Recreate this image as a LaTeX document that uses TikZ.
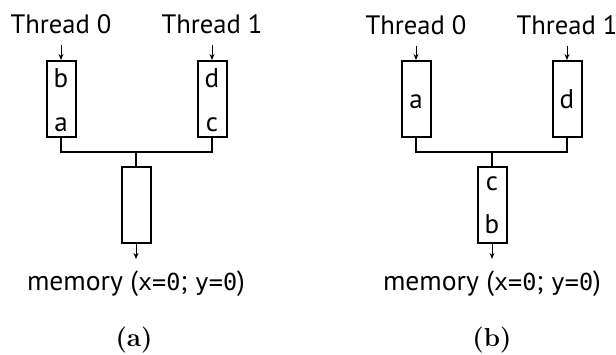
\documentclass[tikz,border=0pt]{standalone}
\usepackage{fontspec}
\usetikzlibrary{arrows.meta}
\newfontfamily\sansfont{PT Sans}
\newfontfamily\codefont{DejaVu Sans Mono}[Scale=0.85]
\begin{document}
\begin{tikzpicture}[
  x=0.5pt, y=-0.5pt,
  box/.style={draw=black, line width=1pt, inner sep=0pt, minimum width=14.5pt, minimum height=38pt},
  lbl/.style={font=\sansfont\fontsize{13.3}{15}\selectfont, inner sep=5.5pt, anchor=base},
  entry/.style={font=\sansfont\fontsize{13.5}{15}\selectfont, inner sep=0pt, anchor=base},
  mem/.style={font=\sansfont\fontsize{13.8}{15}\selectfont, inner sep=5.5pt, anchor=base},
  wire/.style={line width=1pt},
  feed/.style={line width=0.5pt, -{Stealth[length=3pt,width=2.5pt]}},
  subcap/.style={font=\bfseries\fontsize{13}{15}\selectfont, anchor=base}
]
  \useasboundingbox (0,0) rectangle (616,354);

  % (a): both threads buffer two stores each
  \node[lbl] (thrA0) at (61,33) {Thread 0};
  \node[lbl] (thrA1) at (212,33) {Thread 1};
  \node[box] (bufA0) at (61,99) {};
  \node[box] (bufA1) at (212,99) {};
  \node[box] (bufA2) at (136,205) {};
  \node[entry] (eb) at (61,87) {b};
  \node[entry] (ea) at (61,131) {a};
  \node[entry] (ed) at (212,87) {d};
  \node[entry] (ec) at (212,131) {c};
  \coordinate (joinA) at (136,152);
  \node[mem] (memA) at (136,290) {memory ({\codefont x=0}; {\codefont y=0})};
  \node[subcap] (capA) at (134,346) {(a)};

  \draw[feed] (thrA0) -- (bufA0);
  \draw[feed] (thrA1) -- (bufA1);
  \draw[wire] (bufA0.south) |- (joinA) -| (bufA1.south);
  \draw[wire] (joinA) -- (bufA2.north);
  \draw[feed] (bufA2) -- (memA);

  % (b): shared buffer holds c and b
  \node[lbl] (thrB0) at (416,34) {Thread 0};
  \node[lbl] (thrB1) at (567,34) {Thread 1};
  \node[box] (bufB0) at (416,99) {};
  \node[box] (bufB1) at (567,99) {};
  \node[box] (bufB2) at (492,205) {};
  \node[entry] (fa) at (416,108) {a};
  \node[entry] (fd) at (567,108) {d};
  \node[entry] (fc) at (492,190) {c};
  \node[entry] (fb) at (492,233) {b};
  \coordinate (joinB) at (492,152);
  \node[mem] (memB) at (492,290) {memory ({\codefont x=0}; {\codefont y=0})};
  \node[subcap] (capB) at (492,346) {(b)};

  \draw[feed] (thrB0) -- (bufB0);
  \draw[feed] (thrB1) -- (bufB1);
  \draw[wire] (bufB0.south) |- (joinB) -| (bufB1.south);
  \draw[wire] (joinB) -- (bufB2.north);
  \draw[feed] (bufB2) -- (memB);
\end{tikzpicture}
\end{document}
